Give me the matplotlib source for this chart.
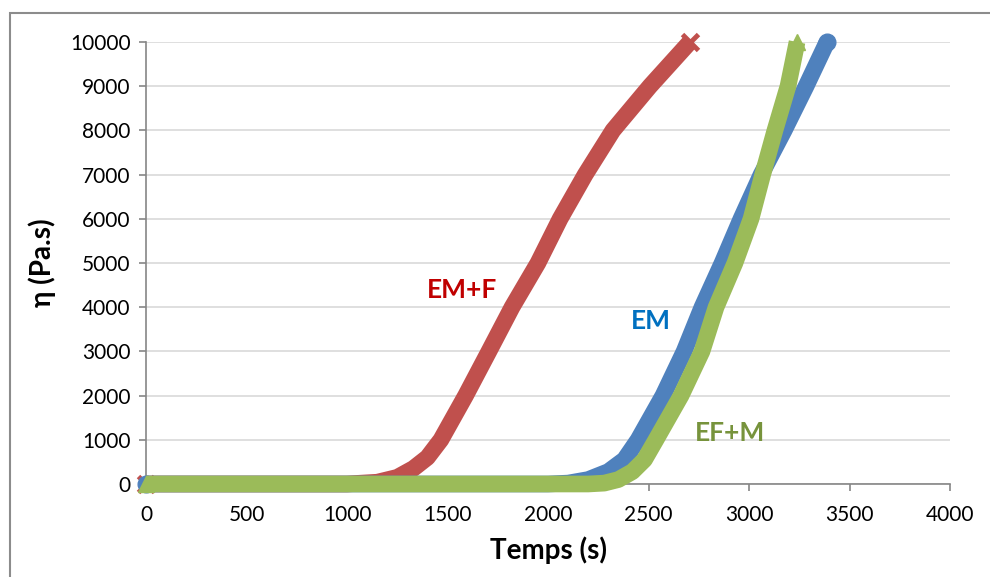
import matplotlib.pyplot as plt
from matplotlib.patches import Rectangle

plt.rcParams['font.family'] = ['Lato', 'DejaVu Sans']

# EM+F (red, x markers)
emf_t = [0, 1000, 1150, 1250, 1330, 1400, 1467, 1590, 1706, 1821, 1950, 2060, 2185, 2323, 2507, 2706]
emf_eta = [0, 0, 40, 150, 350, 600, 1000, 2000, 3000, 4000, 5000, 6000, 7000, 8000, 9000, 10000]

# EM (blue, circles)
em_t = [0, 2000, 2100, 2200, 2300, 2380, 2448, 2572, 2677, 2766, 2866, 2960, 3060, 3175, 3284, 3388]
em_eta = [0, 0, 20, 100, 280, 550, 1000, 2000, 3000, 4000, 5000, 6000, 7000, 8000, 9000, 10000]

# EF+M (green, triangles)
efm_t = [0, 2200, 2280, 2350, 2420, 2480, 2537, 2662, 2766, 2836, 2930, 3010, 3068, 3129, 3194, 3239]
efm_eta = [0, 0, 20, 100, 280, 550, 1000, 2000, 3000, 4000, 5000, 6000, 7000, 8000, 9000, 10000]

fig = plt.figure(figsize=(9.9, 5.77), dpi=100)
ax = fig.add_axes([0.1475, 0.1612, 0.8121, 0.766])

# chart frame
fig.patches.append(Rectangle((10 / 990, -0.05), 1.2, 1 - 13 / 577 + 0.05,
                             transform=fig.transFigure, fill=False,
                             edgecolor='#8c8c8c', linewidth=1.5))

lw = 12
ax.plot(emf_t, emf_eta, color='#C0504D', lw=lw, solid_joinstyle='round',
        solid_capstyle='butt', marker='x', ms=12, mew=3.5, markevery=[0, -1],
        clip_on=False, zorder=3)
ax.plot(em_t, em_eta, color='#4F81BD', lw=lw, solid_joinstyle='round',
        solid_capstyle='butt', marker='o', ms=12, markevery=[0, -1],
        clip_on=False, zorder=4)
ax.plot(efm_t, efm_eta, color='#9BBB59', lw=lw, solid_joinstyle='round',
        solid_capstyle='butt', marker='^', ms=12, markevery=[0, -1],
        clip_on=False, zorder=5)

ax.text(1572, 4389, 'EM+F', color='#C00000', fontsize=19, fontweight='bold',
        ha='center', va='center')
ax.text(2512, 3688, 'EM', color='#0070C0', fontsize=19, fontweight='bold',
        ha='center', va='center')
ax.text(2905, 1154, 'EF+M', color='#77933C', fontsize=19, fontweight='bold',
        ha='center', va='center')

ax.set_xlim(0, 4000)
ax.set_ylim(0, 10000)
ax.set_xticks(range(0, 4001, 500))
ax.set_yticks(range(0, 10001, 1000))
ax.grid(axis='y', color='#D9D9D9', linewidth=1.2)
ax.set_axisbelow(True)

for s in ['top', 'right']:
    ax.spines[s].set_visible(False)
for s in ['left', 'bottom']:
    ax.spines[s].set_color('#868686')
    ax.spines[s].set_linewidth(1.2)
ax.tick_params(axis='both', direction='out', length=5, width=1.2,
               color='#868686', labelsize=15, labelcolor='black')
ax.tick_params(axis='y', pad=6)
ax.tick_params(axis='x', pad=10)

ax.set_xlabel('Temps (s)', fontsize=20, fontweight='bold', labelpad=8)
ax.set_ylabel('η (Pa.s)', fontsize=20, fontweight='bold', labelpad=10)

fig.savefig('out.png', dpi=100)
